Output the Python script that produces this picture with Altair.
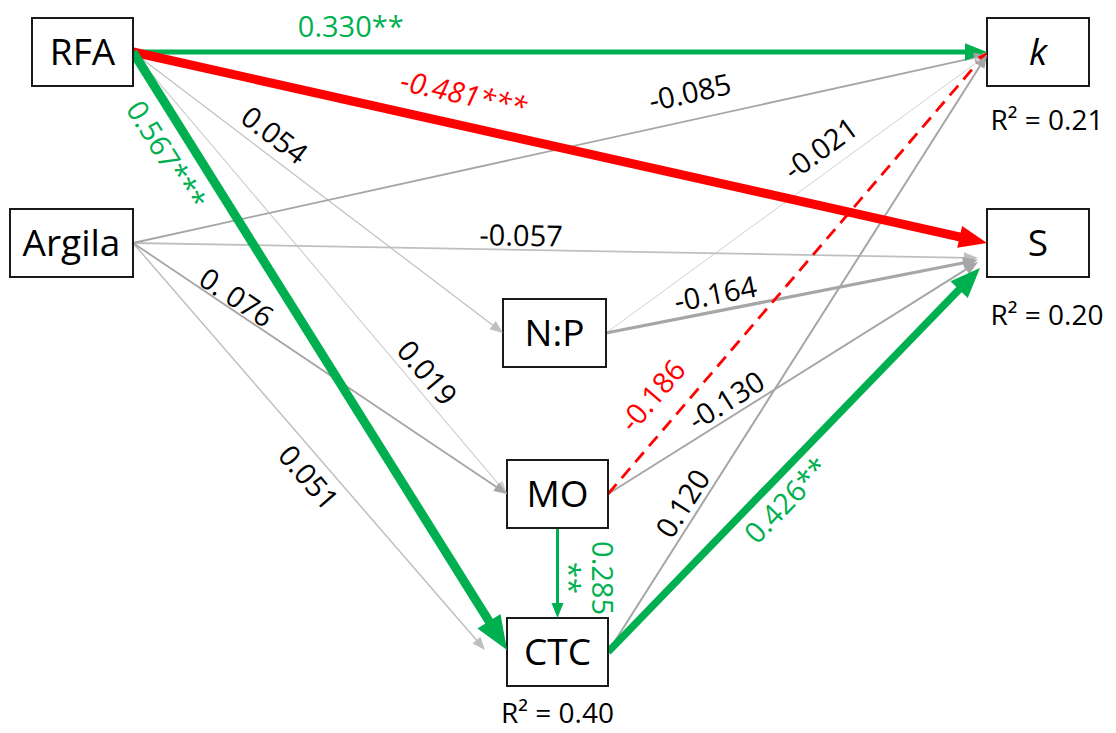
import math
import altair as alt
import pandas as pd

# ---------------- data ----------------
node_names = ["RFA", "Argila", "k", "S", "N:P", "MO", "CTC"]
node_x = [82.5, 71.5, 1038, 1038, 554.5, 557.5, 557.5]
node_y = [52, 243, 52, 243, 333, 494, 652]
node_w = [101, 123, 102, 102, 103, 101, 101]
node_h = [68, 68, 68, 68, 68, 68, 68]
node_italic = [False, False, True, False, False, False, False]

r2_nodes = ["k", "S", "CTC"]
r2_text = ["R² = 0.21", "R² = 0.20", "R² = 0.40"]
r2_dx = [9, 9, 0]
r2_dy = [68, 72, 61]

edge_from = ["RFA", "RFA", "RFA", "RFA", "RFA", "Argila", "Argila", "Argila", "Argila",
             "N:P", "N:P", "MO", "MO", "MO", "CTC", "CTC"]
edge_to = ["k", "S", "CTC", "N:P", "MO", "k", "S", "MO", "CTC",
           "k", "S", "k", "S", "CTC", "k", "S"]
edge_coef = ["0.330**", "-0.481***", "0.567***", "0.054", "0.019", "-0.085", "-0.057", "0. 076", "0.051",
             "-0.021", "-0.164", "-0.186", "-0.130", "0.285", "0.120", "0.426**"]
edge_note = ["", "", "", "", "", "", "", "", "", "", "", "", "", "**", "", ""]

# styles
GREEN, RED, GRAY, LGRAY, VLGRAY = "#00B050", "#FF0000", "#A6A6A6", "#BFBFBF", "#D0D0D0"
edge_color = [GREEN, RED, GREEN, LGRAY, VLGRAY, GRAY, LGRAY, GRAY, LGRAY,
              VLGRAY, GRAY, RED, GRAY, GREEN, GRAY, GREEN]
edge_width = [5, 9, 9, 1.2, 1.2, 1.8, 1.8, 1.8, 1.5, 1.0, 3.2, 2.8, 2.0, 3.0, 2.0, 7.5]
edge_dashed = [False, False, False, False, False, False, False, False, False,
               False, False, True, False, False, False, False]
head_len = [22, 28, 34, 13, 13, 13, 14, 13, 13, 12, 15, 10, 14, 15, 13, 30]
tgt_dy = [0, 0, -2, 0, 0, 3, 15, 0, -2, 3, 17, 0, 19, 0, 3, 25]
tgt_gap = [0, 0, 0, 0, 0, 0, 9, 0, 22, 0, 9, 0, 9, 0, 0, 7]
label_t = [0.255, 0.379, 0.149, 0.351, 0.751, 0.659, 0.459, 0.258, 0.543,
           0.598, 0.303, 0.178, 0.343, 0.556, 0.234, 0.436]
label_off = [26, 32, -26, 20, 18, 28, 15, 13, -20, 23, 18, 31, 17, 45, 17, -22]
note_off = [0, 0, 0, 0, 0, 0, 0, 0, 0, 0, 0, 0, 0, 12, 0, 0]
label_italic = [False, True, False, False, False, False, False, False, False,
                False, False, False, False, False, False, False]

# ---------------- geometry ----------------
idx = {n: i for i, n in enumerate(node_names)}
FONT = "Open Sans"
TDY = 2

edges_rows, heads_rows, label_rows = [], [], []
for i in range(len(edge_from)):
    s, t = idx[edge_from[i]], idx[edge_to[i]]
    if edge_from[i] == "MO" and edge_to[i] == "CTC":
        x0, y0 = node_x[s], node_y[s] + node_h[s] / 2
        x1, y1 = node_x[t], node_y[t] - node_h[t] / 2
    else:
        x0, y0 = node_x[s] + node_w[s] / 2, node_y[s]
        x1, y1 = node_x[t] - node_w[t] / 2 - tgt_gap[i], node_y[t] + tgt_dy[i]
    dx, dy = x1 - x0, y1 - y0
    L = math.hypot(dx, dy)
    ux, uy = dx / L, dy / L
    nx, ny = uy, -ux
    ang = math.degrees(math.atan2(dy, dx))
    hl = head_len[i]
    edges_rows.append(dict(x=x0, y=y0, x2=x1 - ux * hl * 0.6, y2=y1 - uy * hl * 0.6,
                           color=edge_color[i], width=edge_width[i],
                           dashed=edge_dashed[i], order=edge_width[i]))
    heads_rows.append(dict(x=x1, y=y1, angle=ang % 360, size=hl * hl, color=edge_color[i]))
    lc = "#000000" if edge_color[i] in (GRAY, LGRAY, VLGRAY) else edge_color[i]
    cx = x0 + ux * L * label_t[i] + nx * label_off[i]
    cy = y0 + uy * L * label_t[i] + ny * label_off[i]
    label_rows.append(dict(x=cx, y=cy, text=edge_coef[i], angle=ang % 360,
                           color=lc, italic=label_italic[i]))
    if edge_note[i]:
        cx = x0 + ux * L * label_t[i] + nx * note_off[i]
        cy = y0 + uy * L * label_t[i] + ny * note_off[i]
        label_rows.append(dict(x=cx, y=cy, text=edge_note[i], angle=ang % 360,
                               color=lc, italic=False))

edges_df = pd.DataFrame(edges_rows).sort_values("order")
heads_df = pd.DataFrame(heads_rows)
labels_df = pd.DataFrame(label_rows)

nodes_df = pd.DataFrame(dict(
    name=node_names,
    x=node_x, y=node_y,
    x1=[node_x[i] - node_w[i] / 2 for i in range(len(node_names))],
    x2=[node_x[i] + node_w[i] / 2 for i in range(len(node_names))],
    y1=[node_y[i] - node_h[i] / 2 for i in range(len(node_names))],
    y2=[node_y[i] + node_h[i] / 2 for i in range(len(node_names))],
    italic=node_italic,
))

r2_df = pd.DataFrame(dict(
    text=r2_text,
    x=[node_x[idx[n]] + r2_dx[j] for j, n in enumerate(r2_nodes)],
    y=[node_y[idx[n]] + r2_dy[j] for j, n in enumerate(r2_nodes)],
))

# ---------------- chart ----------------
xs = alt.Scale(domain=[8, 1108], nice=False, zero=False)
ys = alt.Scale(domain=[8, 725], nice=False, zero=False, reverse=True)
X = lambda f="x": alt.X(f"{f}:Q", scale=xs, axis=None)
Y = lambda f="y": alt.Y(f"{f}:Q", scale=ys, axis=None)

solid = alt.Chart(edges_df[~edges_df["dashed"]]).mark_rule(strokeCap="butt").encode(
    x=X(), y=Y(), x2="x2:Q", y2="y2:Q",
    color=alt.Color("color:N", scale=None),
    strokeWidth=alt.StrokeWidth("width:Q", scale=None),
    order=alt.Order("order:Q"),
)
dashed = alt.Chart(edges_df[edges_df["dashed"]]).mark_rule(strokeCap="butt", strokeDash=[13, 8]).encode(
    x=X(), y=Y(), x2="x2:Q", y2="y2:Q",
    color=alt.Color("color:N", scale=None),
    strokeWidth=alt.StrokeWidth("width:Q", scale=None),
)
boxes = alt.Chart(nodes_df).mark_rect(fill="white", stroke="#1a1a1a", strokeWidth=2).encode(
    x=X("x1"), x2="x2:Q", y=Y("y1"), y2="y2:Q"
)
heads = alt.Chart(heads_df).mark_point(
    shape="M0,0L-2,-0.8L-2,0.8Z", filled=True, opacity=1, strokeWidth=0
).encode(
    x=X(), y=Y(),
    angle=alt.Angle("angle:Q", scale=None),
    size=alt.Size("size:Q", scale=None),
    color=alt.Color("color:N", scale=None),
)
lab_n = alt.Chart(labels_df[~labels_df["italic"]]).mark_text(
    font=FONT, fontSize=29, align="center", baseline="middle", dy=TDY
).encode(x=X(), y=Y(), text="text:N", angle=alt.Angle("angle:Q", scale=None),
         color=alt.Color("color:N", scale=None))
lab_i = alt.Chart(labels_df[labels_df["italic"]]).mark_text(
    font=FONT, fontSize=29, align="center", baseline="middle", fontStyle="italic", dy=TDY
).encode(x=X(), y=Y(), text="text:N", angle=alt.Angle("angle:Q", scale=None),
         color=alt.Color("color:N", scale=None))
node_n = alt.Chart(nodes_df[~nodes_df["italic"]]).mark_text(
    font=FONT, fontSize=37, align="center", baseline="middle", color="black", dy=TDY
).encode(x=X(), y=Y(), text="name:N")
node_i = alt.Chart(nodes_df[nodes_df["italic"]]).mark_text(
    font=FONT, fontSize=37, align="center", baseline="middle", color="black", fontStyle="italic", dy=TDY
).encode(x=X(), y=Y(), text="name:N")
r2 = alt.Chart(r2_df).mark_text(
    font=FONT, fontSize=28, align="center", baseline="middle", color="black", dy=TDY
).encode(x=X(), y=Y(), text="text:N")

chart = alt.layer(solid, dashed, boxes, heads, lab_n, lab_i, node_n, node_i, r2).properties(
    width=1100, height=717, padding=0, autosize="none", background="white"
).configure_view(stroke=None)

chart.save("out.html", embed_options={"renderer": "svg", "actions": False})
